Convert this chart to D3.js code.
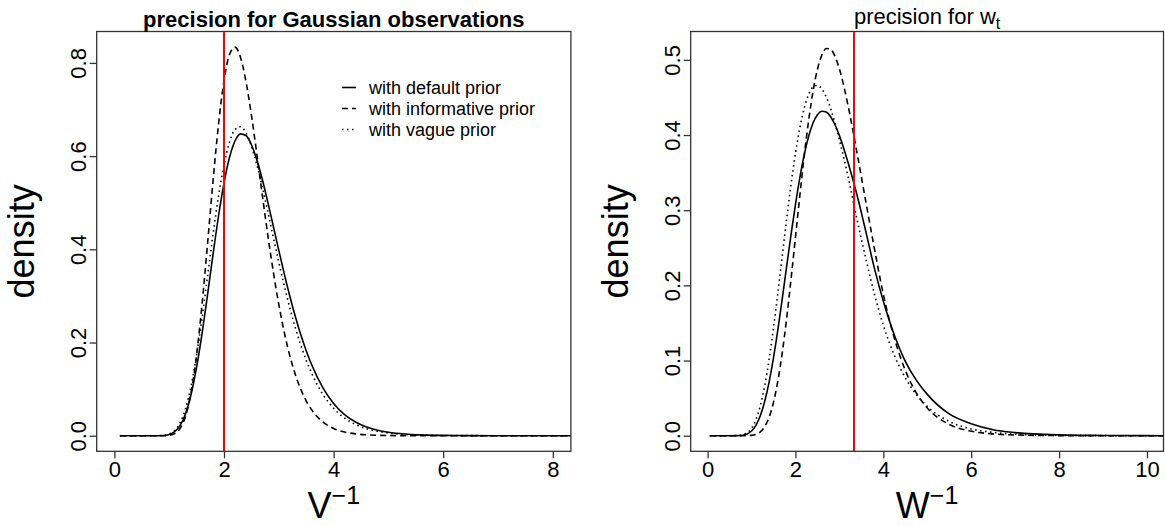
<!DOCTYPE html>
<html>
<head>
<meta charset="utf-8">
<script src="https://cdn.jsdelivr.net/npm/d3@7"></script>
<style>
  body { margin: 0; background: #fff; }
  text { font-family: "Liberation Sans", Arial, Helvetica, sans-serif; fill: #000; }
</style>
</head>
<body>
<div id="graph"></div>
<script>
// ---- data ----
// left panel: posterior of the observation precision V^-1
var vGrid = [0.1, 0.4, 0.7, 0.9, 1.0, 1.1, 1.2, 1.3, 1.4, 1.5, 1.6, 1.7, 1.8, 1.9, 2.0, 2.1, 2.2, 2.3, 2.4, 2.5,
  2.6, 2.7, 2.8, 2.9, 3.0, 3.1, 3.2, 3.3, 3.4, 3.5, 3.6, 3.8, 4.0, 4.2, 4.4, 4.6, 4.8, 5.0, 5.3, 5.6,
  6.0, 6.5, 7.0, 7.5, 8.0, 8.5];
var vDefault = [0, 0, 0, 0.0006, 0.0027, 0.0087, 0.0222, 0.0478, 0.0890, 0.147, 0.2197, 0.3027, 0.3893, 0.4715, 0.542, 0.5969, 0.6324, 0.6477, 0.6442, 0.6244,
  0.5915, 0.5492, 0.5008, 0.4495, 0.3977, 0.3474, 0.3000, 0.2565, 0.2172, 0.1825, 0.1522, 0.1038, 0.0693, 0.0454, 0.0294, 0.0187, 0.0119, 0.0075, 0.0037, 0.0018,
  0.0007, 0.0002, 0.0001, 0, 0, 0];
var vInformative = [0, 0, 0, 0.0001, 0.0010, 0.0046, 0.0157, 0.0422, 0.0928, 0.1734, 0.2828, 0.4125, 0.5469, 0.6684, 0.762, 0.8179, 0.8338, 0.8123, 0.7607, 0.688,
  0.6037, 0.5156, 0.4301, 0.3512, 0.2815, 0.2218, 0.172, 0.1319, 0.0999, 0.0748, 0.0555, 0.0298, 0.0156, 0.0080, 0.0040, 0.0020, 0.0010, 0.0005, 0.0001, 0,
  0, 0, 0, 0, 0, 0];
var vVague = [0, 0, 0, 0.0009, 0.0036, 0.0113, 0.0281, 0.0589, 0.1070, 0.1728, 0.2533, 0.3424, 0.4321, 0.5141, 0.5814, 0.6298, 0.6570, 0.6630, 0.6502, 0.6216,
  0.5812, 0.5328, 0.4800, 0.4257, 0.3724, 0.3217, 0.2748, 0.2325, 0.1949, 0.1621, 0.1340, 0.0897, 0.0588, 0.0379, 0.0241, 0.0152, 0.0095, 0.0059, 0.0028, 0.0014,
  0.0005, 0.0002, 0, 0, 0, 0];

// right panel: posterior of the state precision W^-1
var wGrid = [0.05, 0.4, 0.7, 0.9, 1.0, 1.1, 1.2, 1.3, 1.4, 1.5, 1.6, 1.7, 1.8, 1.9, 2.0, 2.1, 2.2, 2.3, 2.4, 2.5,
  2.6, 2.7, 2.8, 2.9, 3.0, 3.2, 3.4, 3.6, 3.8, 4.0, 4.25, 4.5, 4.75, 5.0, 5.5, 6.0, 6.5, 7.0, 8.0, 9.0,
  10.0, 10.5];
var wDefault = [0, 0, 0.0002, 0.0024, 0.0063, 0.0139, 0.0266, 0.0456, 0.0714, 0.1037, 0.1411, 0.1824, 0.2253, 0.2677, 0.3075, 0.3434, 0.3740, 0.3982, 0.4159, 0.4270,
  0.4317, 0.4307, 0.4244, 0.4137, 0.3994, 0.3629, 0.3205, 0.272, 0.222, 0.179, 0.134, 0.099, 0.074, 0.055, 0.029, 0.016, 0.008, 0.0042, 0.0012, 0.0004,
  0.0001, 0];
var wInformative = [0, 0, 0, 0.0001, 0.0005, 0.0019, 0.0051, 0.0120, 0.0245, 0.0444, 0.0729, 0.1105, 0.1564, 0.2085, 0.2639, 0.3196, 0.3725, 0.4193, 0.4581, 0.4873,
  0.5063, 0.5151, 0.5142, 0.5047, 0.4880, 0.4384, 0.3766, 0.3118, 0.2480, 0.188, 0.130, 0.087, 0.057, 0.037, 0.015, 0.006, 0.0025, 0.001, 0.0002, 0,
  0, 0];
var wVague = [0, 0, 0.0003, 0.0038, 0.0099, 0.0212, 0.0397, 0.0663, 0.1011, 0.1430, 0.1900, 0.2393, 0.2885, 0.3346, 0.3754, 0.4096, 0.4359, 0.4539, 0.4638, 0.4660,
  0.4613, 0.4507, 0.4352, 0.4158, 0.3936, 0.3441, 0.288, 0.236, 0.188, 0.147, 0.107, 0.077, 0.055, 0.039, 0.019, 0.009, 0.0045, 0.002, 0.0005, 0.0001,
  0, 0];

// true values (red lines)
var vTrue = 2;
var wTrue = 3.333;

// axis ticks
var vTicksX = [0, 2, 4, 6, 8];
var vTicksY = [0, 0.2, 0.4, 0.6, 0.8];
var wTicksX = [0, 2, 4, 6, 8, 10];
var wTicksY = [0, 0.1, 0.2, 0.3, 0.4, 0.5];

var legendLabels = ["with default prior", "with informative prior", "with vague prior"];

// ---- drawing ----
var w = 1165, h = 526;
var vis = d3.select("#graph").append("svg")
  .attr("width", w)
  .attr("height", h);

var lineStyles = [
  {dash: null, width: 1.6},
  {dash: "6,4", width: 1.6},
  {dash: "1.5,3.5", width: 1.6}
];

function drawPanel(p, idx) {
  var x = d3.scaleLinear().domain(p.xDom).range([p.left, p.right]);
  var y = d3.scaleLinear().domain(p.yDom).range([p.bottom, p.top]);

  var clipId = "clip" + idx;
  vis.append("clipPath").attr("id", clipId)
    .append("rect")
    .attr("x", p.left).attr("y", p.top)
    .attr("width", p.right - p.left).attr("height", p.bottom - p.top);

  var g = vis.append("g").attr("clip-path", "url(#" + clipId + ")");

  var line = d3.line()
    .x(function(d) { return x(d[0]); })
    .y(function(d) { return y(d[1]); })
    .curve(d3.curveMonotoneX);

  p.series.forEach(function(s, i) {
    var pts = p.grid.map(function(v, j) { return [v, s[j]]; });
    g.append("path")
      .attr("d", line(pts))
      .attr("fill", "none")
      .attr("stroke", "#000")
      .attr("stroke-width", lineStyles[i].width)
      .attr("stroke-dasharray", lineStyles[i].dash);
  });

  // true value
  g.append("line")
    .attr("x1", x(p.truth)).attr("x2", x(p.truth))
    .attr("y1", p.top).attr("y2", p.bottom)
    .attr("stroke", "#ff0000")
    .attr("stroke-width", 2);

  // box
  vis.append("rect")
    .attr("x", p.left).attr("y", p.top)
    .attr("width", p.right - p.left).attr("height", p.bottom - p.top)
    .attr("fill", "none")
    .attr("stroke", "#333")
    .attr("stroke-width", 1.3);

  // x axis
  var gx = vis.append("g")
    .attr("transform", "translate(0," + p.bottom + ")")
    .call(d3.axisBottom(x).tickValues(p.ticksX).tickSize(7).tickPadding(3).tickFormat(d3.format("d")));
  gx.select(".domain").remove();
  gx.selectAll(".tick line").attr("stroke", "#333").attr("stroke-width", 1.3);
  gx.selectAll(".tick text")
    .attr("font-size", 22)
    .attr("font-family", "Liberation Sans, Arial, sans-serif")
    .attr("fill", "#000");

  // y axis, labels parallel to the axis
  var gy = vis.append("g")
    .attr("transform", "translate(" + p.left + ",0)")
    .call(d3.axisLeft(y).tickValues(p.ticksY).tickSize(7).tickFormat(d3.format(".1f")));
  gy.select(".domain").remove();
  gy.selectAll(".tick line").attr("stroke", "#333").attr("stroke-width", 1.3);
  gy.selectAll(".tick text")
    .attr("transform", "rotate(-90)")
    .attr("x", 0)
    .attr("y", -10.7)
    .attr("dy", null)
    .attr("text-anchor", "middle")
    .attr("font-size", 22)
    .attr("font-family", "Liberation Sans, Arial, sans-serif")
    .attr("fill", "#000");

  var midX = (p.left + p.right) / 2;
  var midY = (p.top + p.bottom) / 2;

  // y label
  vis.append("text")
    .attr("transform", "translate(" + (p.left - 62.7) + "," + midY + ") rotate(-90)")
    .attr("text-anchor", "middle")
    .attr("font-size", 36)
    .text("density");

  // x label with superscript
  var xl = vis.append("text")
    .attr("x", midX)
    .attr("y", 518)
    .attr("text-anchor", "middle")
    .attr("font-size", 36);
  xl.append("tspan").text(p.xName);
  xl.append("tspan").attr("font-size", 25).attr("dy", -14).text("\u22121");

  // title
  var t = vis.append("text")
    .attr("x", midX)
    .attr("y", p.titleY)
    .attr("text-anchor", "middle")
    .attr("font-size", 22)
    .attr("font-weight", p.titleBold ? "bold" : "normal");
  t.append("tspan").text(p.title);
  if (p.titleSub) {
    t.append("tspan").attr("font-size", 16).attr("dy", 5).text(p.titleSub);
  }
}

var panels = [
  {left: 96.7, right: 570.9, top: 31.5, bottom: 451.3,
   xDom: [-0.323, 8.33], yDom: [-0.0334, 0.8674],
   grid: vGrid, series: [vDefault, vInformative, vVague], truth: vTrue,
   ticksX: vTicksX, ticksY: vTicksY, xName: "V",
   title: "precision for Gaussian observations", titleBold: true, titleY: 26.5},
  {left: 690.7, right: 1163.5, top: 31.5, bottom: 451.3,
   xDom: [-0.384, 10.376], yDom: [-0.0207, 0.5377],
   grid: wGrid, series: [wDefault, wInformative, wVague], truth: wTrue,
   ticksX: wTicksX, ticksY: wTicksY, xName: "W",
   title: "precision for w", titleSub: "t", titleBold: false, titleY: 24}
];

panels.forEach(drawPanel);

// legend (left panel)
var leg = vis.append("g");
legendLabels.forEach(function(lbl, i) {
  var by = 93.5 + i * 21;
  leg.append("line")
    .attr("x1", 342).attr("x2", 356)
    .attr("y1", by - 6).attr("y2", by - 6)
    .attr("stroke", "#000")
    .attr("stroke-width", lineStyles[i].width)
    .attr("stroke-dasharray", lineStyles[i].dash);
  leg.append("text")
    .attr("x", 369).attr("y", by)
    .attr("font-size", 18)
    .text(lbl);
});
</script>
</body>
</html>
